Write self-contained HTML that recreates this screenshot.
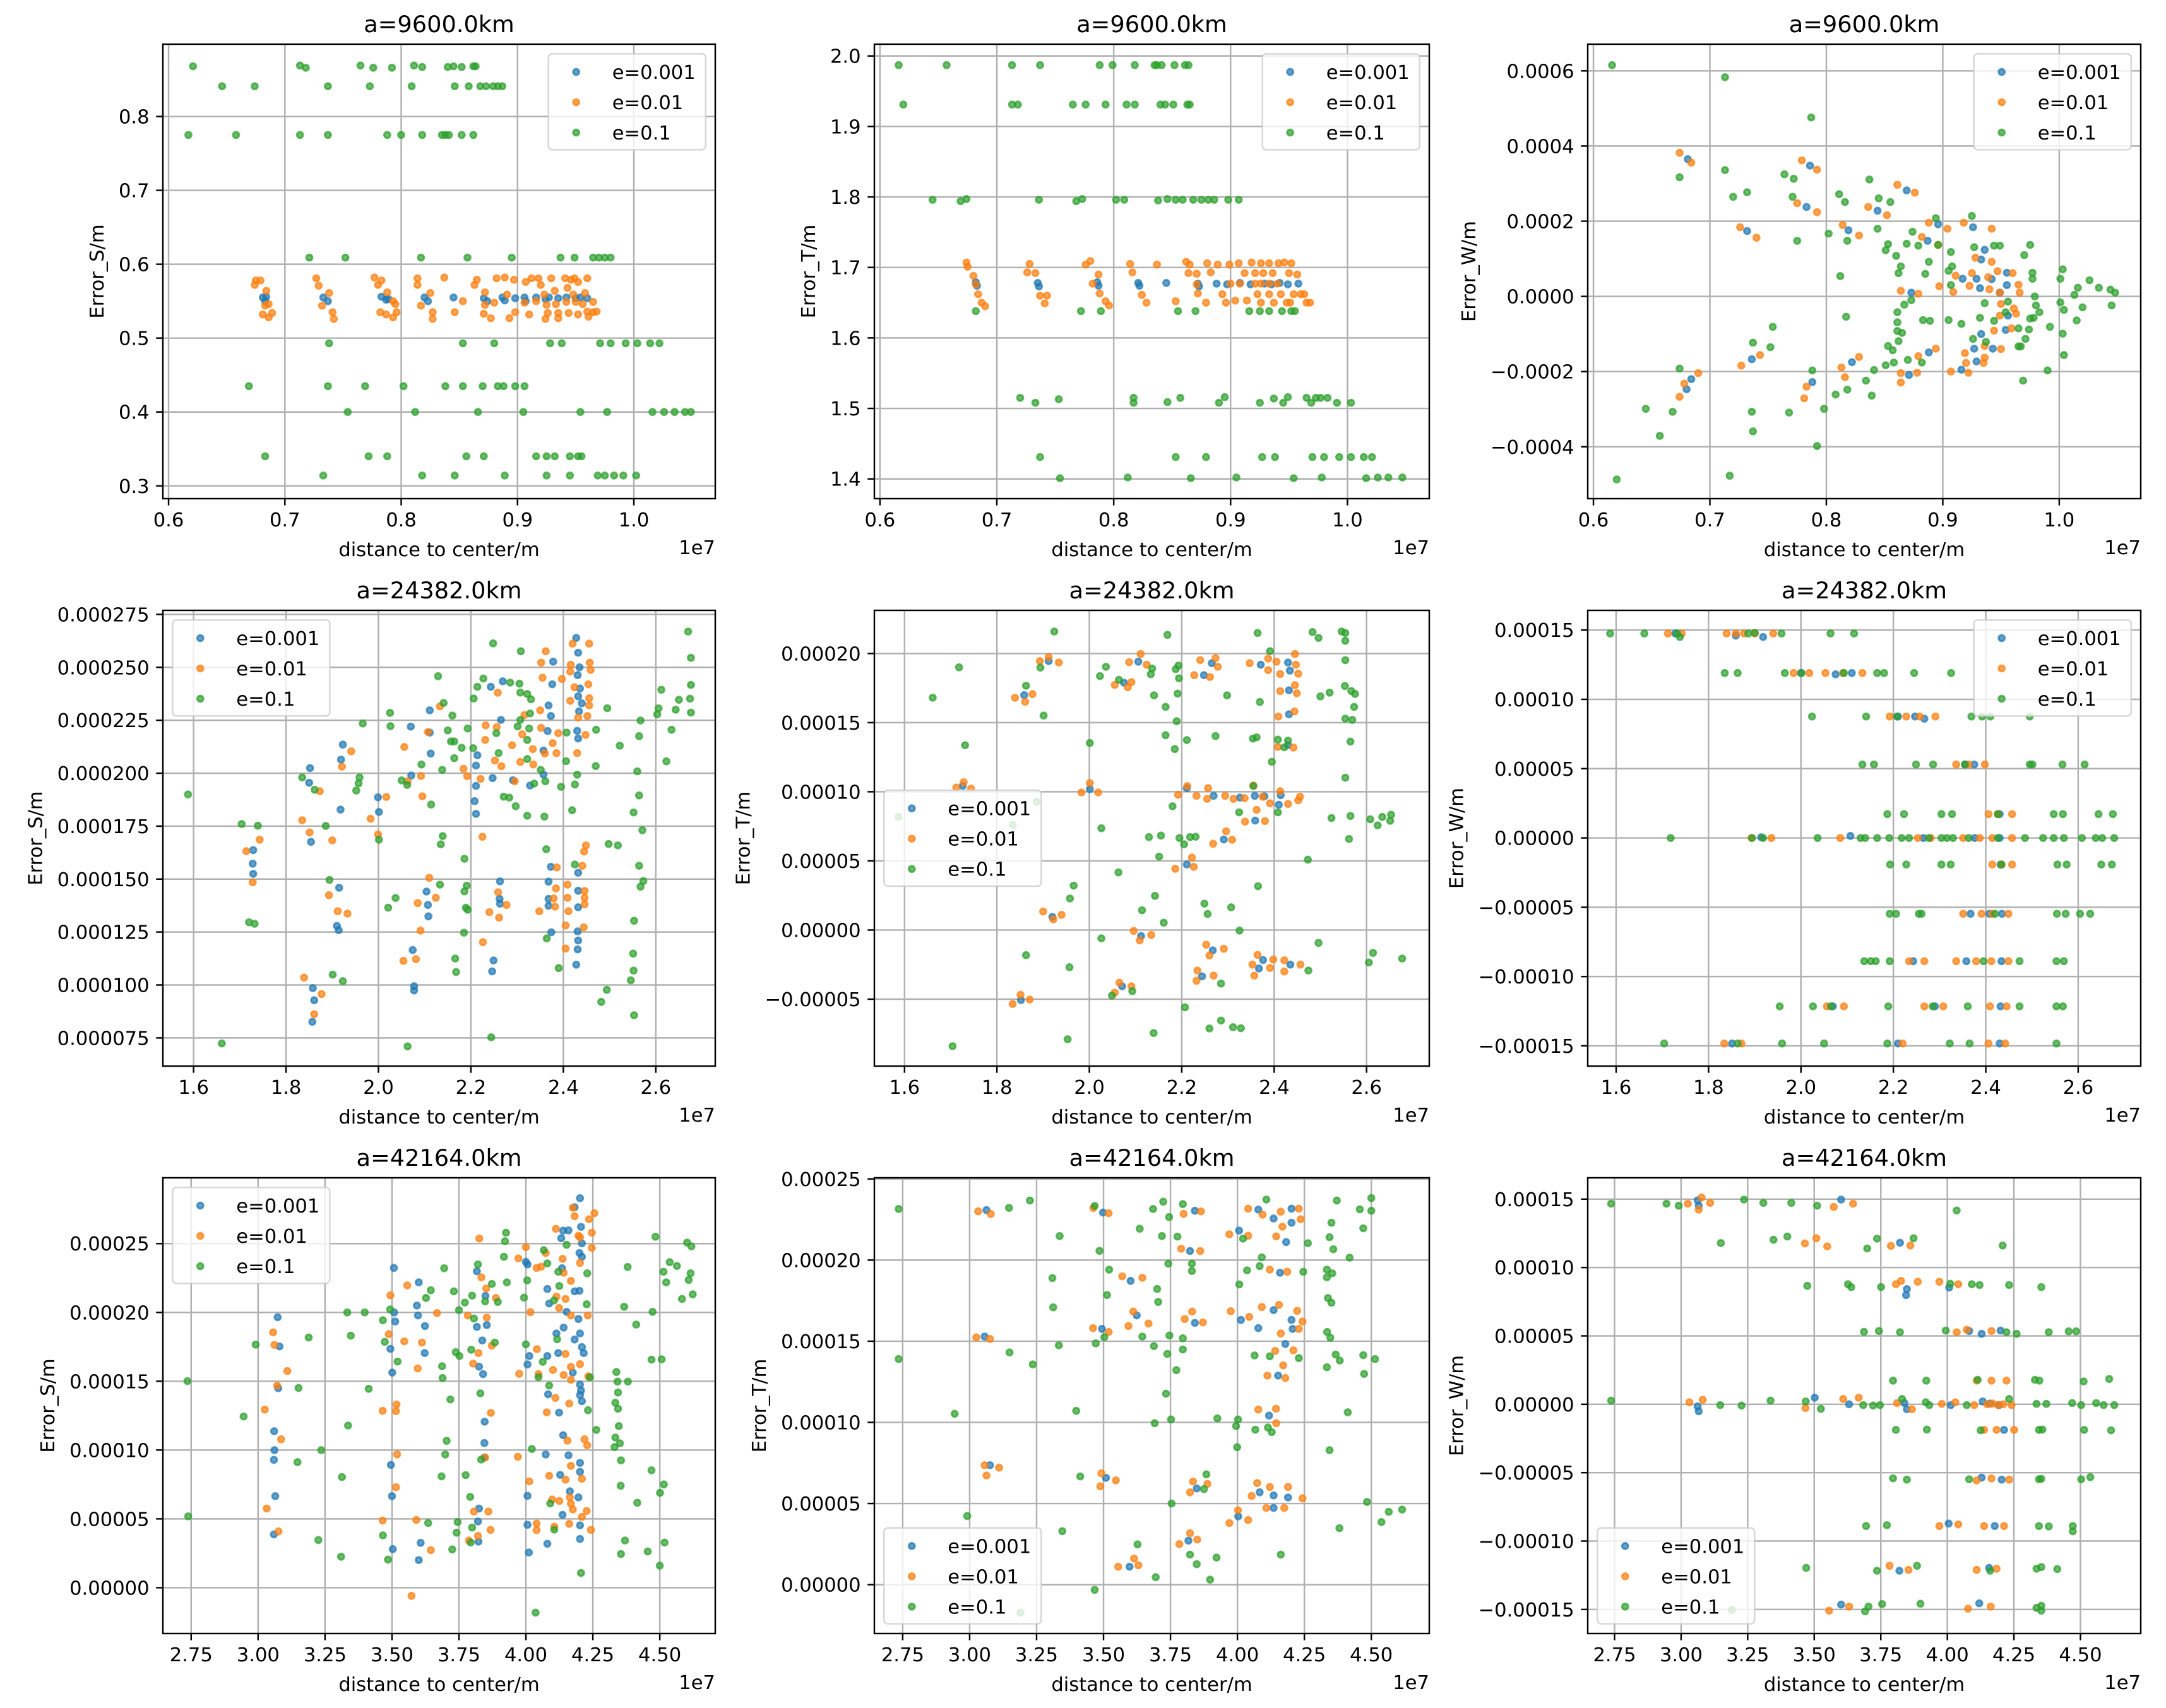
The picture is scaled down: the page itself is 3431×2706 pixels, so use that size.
<!DOCTYPE html>
<html><head><meta charset="utf-8"><title>Error scatter grid</title>
<style>
html,body{margin:0;padding:0;background:#fff;}
svg{display:block;font-family:"DejaVu Sans","Liberation Sans",sans-serif;}
</style></head>
<body>
<svg id="fig" xmlns="http://www.w3.org/2000/svg" width="3431" height="2706" viewBox="0 0 3431 2706">
<rect x="0" y="0" width="3431" height="2706" fill="#ffffff"/>
</svg>
<script>
// ---------------- DATA ----------------
// x in units of 1e7 m; y for S/T 9600 in m; other y in units of 1e-6 m
const seriesLabels = ["e=0.001","e=0.01","e=0.1"];
const seriesColors = ["#1f77b4","#ff7f0e","#2ca02c"];

const ticks9600X = [0.6,0.7,0.8,0.9,1.0];
const ticks9600XLabels = ["0.6","0.7","0.8","0.9","1.0"];
const ticks24382X = [1.6,1.8,2.0,2.2,2.4,2.6];
const ticks24382XLabels = ["1.6","1.8","2.0","2.2","2.4","2.6"];
const ticks42164X = [2.75,3.0,3.25,3.5,3.75,4.0,4.25,4.5];
const ticks42164XLabels = ["2.75","3.00","3.25","3.50","3.75","4.00","4.25","4.50"];

const ticksP1Y = [0.3,0.4,0.5,0.6,0.7,0.8];
const ticksP1YLabels = ["0.3","0.4","0.5","0.6","0.7","0.8"];
const ticksP2Y = [1.4,1.5,1.6,1.7,1.8,1.9,2.0];
const ticksP2YLabels = ["1.4","1.5","1.6","1.7","1.8","1.9","2.0"];
const ticksP3Y = [-400,-200,0,200,400,600];
const ticksP3YLabels = ["\u22120.0004","\u22120.0002","0.0000","0.0002","0.0004","0.0006"];
const ticksP4Y = [75,100,125,150,175,200,225,250,275];
const ticksP4YLabels = ["0.000075","0.000100","0.000125","0.000150","0.000175","0.000200","0.000225","0.000250","0.000275"];
const ticksP5Y = [-50,0,50,100,150,200];
const ticksP5YLabels = ["\u22120.00005","0.00000","0.00005","0.00010","0.00015","0.00020"];
const ticksWY = [-150,-100,-50,0,50,100,150];
const ticksWYLabels = ["\u22120.00015","\u22120.00010","\u22120.00005","0.00000","0.00005","0.00010","0.00015"];
const ticksP7Y = [0,50,100,150,200,250];
const ticksP7YLabels = ["0.00000","0.00005","0.00010","0.00015","0.00020","0.00025"];

// Panel 1: a=9600 Error_S
const p1Blue = [[0.681,0.555],[0.683,0.55],[0.684,0.556],[0.733,0.555],[0.737,0.55],[0.783,0.556],[0.787,0.552],[0.789,0.553],[0.82,0.555],[0.823,0.55],[0.845,0.555],[0.871,0.554],[0.874,0.55],[0.887,0.555],[0.889,0.551],[0.898,0.554],[0.906,0.555],[0.907,0.55],[0.916,0.555],[0.924,0.553],[0.927,0.555],[0.935,0.554],[0.942,0.555],[0.95,0.554],[0.954,0.555],[0.96,0.554]];
const p1Orange = [[0.675,0.578],[0.679,0.578],[0.674,0.572],[0.684,0.564],[0.683,0.544],[0.686,0.546],[0.681,0.532],[0.686,0.528],[0.689,0.534],[0.727,0.581],[0.729,0.571],[0.732,0.544],[0.738,0.561],[0.741,0.535],[0.742,0.526],[0.777,0.582],[0.783,0.578],[0.78,0.572],[0.788,0.562],[0.793,0.55],[0.795,0.546],[0.782,0.535],[0.787,0.532],[0.793,0.528],[0.796,0.535],[0.814,0.581],[0.814,0.572],[0.817,0.544],[0.825,0.561],[0.827,0.535],[0.827,0.526],[0.837,0.582],[0.846,0.535],[0.853,0.55],[0.863,0.572],[0.865,0.579],[0.872,0.562],[0.872,0.545],[0.871,0.533],[0.877,0.527],[0.88,0.548],[0.882,0.581],[0.889,0.582],[0.891,0.559],[0.893,0.527],[0.897,0.579],[0.898,0.535],[0.906,0.548],[0.907,0.576],[0.91,0.532],[0.912,0.581],[0.916,0.55],[0.918,0.581],[0.92,0.572],[0.923,0.559],[0.925,0.545],[0.926,0.534],[0.924,0.526],[0.929,0.581],[0.932,0.564],[0.933,0.546],[0.935,0.534],[0.935,0.527],[0.941,0.581],[0.943,0.568],[0.942,0.549],[0.944,0.534],[0.946,0.579],[0.948,0.559],[0.95,0.549],[0.952,0.532],[0.949,0.581],[0.952,0.576],[0.958,0.561],[0.956,0.546],[0.961,0.529],[0.96,0.536],[0.965,0.535],[0.965,0.549],[0.968,0.536],[0.96,0.581]];
const p1Green = [[0.621,0.868],[0.713,0.869],[0.718,0.866],[0.765,0.869],[0.776,0.866],[0.792,0.866],[0.811,0.869],[0.818,0.867],[0.84,0.867],[0.845,0.868],[0.852,0.867],[0.862,0.868],[0.864,0.868],
[0.646,0.841],[0.674,0.841],[0.737,0.841],[0.773,0.841],[0.809,0.841],[0.846,0.841],[0.858,0.841],[0.868,0.841],[0.873,0.841],[0.879,0.841],[0.883,0.841],[0.887,0.841],
[0.617,0.775],[0.658,0.775],[0.713,0.775],[0.737,0.775],[0.788,0.775],[0.8,0.775],[0.818,0.775],[0.835,0.775],[0.838,0.775],[0.841,0.775],[0.852,0.775],[0.862,0.775],
[0.721,0.609],[0.752,0.609],[0.817,0.609],[0.857,0.609],[0.895,0.609],[0.937,0.609],[0.949,0.609],[0.965,0.609],[0.97,0.609],[0.975,0.609],[0.98,0.609],
[0.738,0.493],[0.853,0.493],[0.88,0.493],[0.928,0.493],[0.938,0.493],[0.971,0.493],[0.98,0.493],[0.993,0.493],[1.003,0.493],[1.014,0.493],[1.022,0.493],
[0.669,0.435],[0.737,0.435],[0.769,0.435],[0.802,0.435],[0.838,0.435],[0.853,0.435],[0.87,0.435],[0.883,0.435],[0.888,0.435],[0.898,0.435],[0.906,0.435],
[0.754,0.4],[0.812,0.4],[0.866,0.4],[0.905,0.4],[0.954,0.4],[0.977,0.4],[1.016,0.4],[1.026,0.4],[1.035,0.4],[1.044,0.4],[1.049,0.4],
[0.683,0.34],[0.772,0.34],[0.788,0.34],[0.856,0.34],[0.871,0.34],[0.916,0.34],[0.925,0.34],[0.932,0.34],[0.945,0.34],[0.952,0.34],[0.955,0.34],
[0.733,0.314],[0.818,0.314],[0.846,0.314],[0.889,0.314],[0.925,0.314],[0.945,0.314],[0.969,0.314],[0.975,0.314],[0.983,0.314],[0.991,0.314],[1.002,0.314]];

// Panel 2: a=9600 Error_T
const p2Blue = [[0.682,1.679],[0.683,1.674],[0.735,1.678],[0.736,1.673],[0.786,1.679],[0.787,1.674],[0.821,1.678],[0.822,1.674],[0.845,1.678],[0.872,1.677],[0.873,1.673],[0.888,1.677],[0.897,1.676],[0.908,1.678],[0.917,1.676],[0.929,1.677],[0.935,1.676],[0.942,1.678],[0.949,1.676],[0.958,1.677]];
const p2Orange = [[0.674,1.707],[0.675,1.701],[0.68,1.688],[0.682,1.676],[0.684,1.662],[0.687,1.65],[0.69,1.645],[0.728,1.705],[0.726,1.693],[0.733,1.692],[0.737,1.66],[0.743,1.66],[0.741,1.649],[0.776,1.704],[0.78,1.709],[0.787,1.69],[0.782,1.677],[0.788,1.663],[0.793,1.652],[0.796,1.646],[0.814,1.705],[0.816,1.693],[0.824,1.661],[0.828,1.65],[0.837,1.704],[0.853,1.652],[0.862,1.708],[0.865,1.704],[0.864,1.692],[0.871,1.691],[0.872,1.663],[0.88,1.706],[0.883,1.693],[0.879,1.65],[0.889,1.704],[0.893,1.662],[0.896,1.65],[0.899,1.704],[0.904,1.653],[0.907,1.706],[0.912,1.692],[0.914,1.653],[0.918,1.707],[0.921,1.692],[0.923,1.662],[0.926,1.706],[0.926,1.65],[0.928,1.692],[0.933,1.706],[0.933,1.662],[0.936,1.692],[0.937,1.65],[0.941,1.706],[0.943,1.662],[0.946,1.707],[0.948,1.65],[0.95,1.692],[0.951,1.65],[0.952,1.706],[0.954,1.662],[0.957,1.69],[0.96,1.662],[0.963,1.662],[0.965,1.65],[0.968,1.65],[0.921,1.677],[0.926,1.677],[0.933,1.677],[0.94,1.677],[0.9,1.677],[0.908,1.677],[0.871,1.676]];
const p2Green = [[0.616,1.987],[0.657,1.987],[0.713,1.987],[0.737,1.987],[0.788,1.987],[0.799,1.987],[0.818,1.987],[0.835,1.987],[0.837,1.987],[0.841,1.987],[0.852,1.987],[0.861,1.987],[0.864,1.987],
[0.62,1.931],[0.713,1.931],[0.718,1.931],[0.765,1.931],[0.776,1.931],[0.793,1.931],[0.811,1.931],[0.818,1.931],[0.84,1.931],[0.844,1.931],[0.851,1.931],[0.863,1.931],[0.865,1.931],
[0.645,1.796],[0.669,1.794],[0.674,1.797],[0.736,1.796],[0.768,1.794],[0.773,1.797],[0.802,1.796],[0.809,1.796],[0.838,1.795],[0.846,1.797],[0.853,1.796],[0.859,1.796],[0.868,1.796],[0.875,1.796],[0.881,1.796],[0.886,1.796],[0.898,1.796],[0.907,1.796],
[0.682,1.638],[0.772,1.638],[0.789,1.638],[0.855,1.638],[0.87,1.638],[0.916,1.638],[0.925,1.638],[0.933,1.638],[0.944,1.638],[0.952,1.638],[0.955,1.638],
[0.72,1.515],[0.753,1.513],[0.817,1.515],[0.857,1.515],[0.895,1.516],[0.937,1.514],[0.949,1.516],[0.965,1.515],[0.973,1.515],[0.977,1.515],[0.983,1.515],[1.003,1.508],
[0.733,1.508],[0.817,1.508],[0.846,1.509],[0.89,1.508],[0.925,1.508],[0.945,1.508],[0.969,1.508],[0.991,1.508],
[0.737,1.431],[0.853,1.431],[0.879,1.431],[0.927,1.431],[0.938,1.431],[0.97,1.431],[0.98,1.431],[0.993,1.431],[1.003,1.431],[1.014,1.431],[1.021,1.431],
[0.754,1.401],[0.812,1.402],[0.866,1.401],[0.905,1.402],[0.954,1.401],[0.978,1.402],[1.016,1.401],[1.026,1.402],[1.035,1.402],[1.047,1.402]];

// Panel 3: a=9600 Error_W (y in 1e-6)
const p3Blue = [[0.681,365],[0.786,348],[0.783,238],[0.732,174],[0.819,176],[0.844,228],[0.869,282],[0.887,148],[0.896,192],[0.926,184],[0.936,124],[0.933,98],[0.955,63],[0.917,47],[0.929,47],[0.942,46],[0.955,30],[0.932,22],[0.949,10],[0.873,10],[0.956,-51],[0.954,-89],[0.933,-100],[0.927,-139],[0.943,-139],[0.929,-173],[0.916,-195],[0.888,-149],[0.871,-209],[0.822,-175],[0.736,-167],[0.684,-220],[0.68,-247],[0.788,-228]];
const p3Orange = [[0.674,382],[0.684,356],[0.779,362],[0.792,337],[0.775,248],[0.792,224],[0.726,184],[0.74,156],[0.814,190],[0.828,162],[0.836,238],[0.852,216],[0.861,297],[0.876,276],[0.888,196],[0.904,180],[0.882,158],[0.896,137],[0.918,196],[0.942,180],[0.928,103],[0.942,92],[0.911,55],[0.925,62],[0.939,51],[0.947,67],[0.96,62],[0.897,27],[0.864,15],[0.879,7],[0.909,12],[0.923,28],[0.94,19],[0.949,10],[0.965,31],[0.966,10],[0.95,-20],[0.961,-32],[0.963,-46],[0.949,-51],[0.959,-85],[0.944,-91],[0.95,-140],[0.936,-132],[0.919,-151],[0.936,-163],[0.92,-177],[0.935,-177],[0.907,-200],[0.922,-203],[0.894,-139],[0.879,-159],[0.864,-204],[0.864,-229],[0.878,-203],[0.813,-189],[0.828,-161],[0.816,-215],[0.783,-240],[0.781,-271],[0.69,-204],[0.678,-232],[0.674,-267],[0.743,-156],[0.727,-184]];
const p3Green = [[0.616,615],[0.713,583],[0.787,476],[0.674,317],[0.713,336],[0.72,265],[0.732,277],[0.764,325],[0.772,313],[0.771,265],[0.775,148],[0.811,272],[0.816,251],[0.837,311],[0.845,261],[0.855,251],[0.844,180],[0.802,167],[0.818,148],[0.812,54],[0.817,-54],[0.851,123],[0.853,139],[0.86,108],[0.864,80],[0.862,62],[0.869,140],[0.874,172],[0.879,135],[0.888,92],[0.885,60],[0.894,208],[0.896,137],[0.907,118],[0.908,80],[0.905,68],[0.907,30],[0.925,214],[0.927,131],[0.944,135],[0.949,135],[0.975,137],[0.97,110],[0.977,63],[0.977,47],[0.979,0],[0.98,-24],[0.983,-42],[0.978,-57],[0.974,-88],[0.971,-113],[0.967,-133],[0.969,-224],[0.99,-197],[0.992,-81],[1.003,72],[1.001,47],[1.001,-16],[1.004,-36],[1.015,-64],[1.02,-29],[1.013,4],[1.016,23],[1.026,43],[1.034,23],[1.044,18],[1.048,10],[1.045,-24],[1.003,-99],[1.004,-156],[0.965,-85],[0.956,-14],[0.936,-18],[0.932,-57],[0.916,-73],[0.905,-63],[0.889,-65],[0.883,-63],[0.861,-42],[0.867,-22],[0.873,-10],[0.861,-69],[0.861,-92],[0.865,-97],[0.862,-119],[0.853,-132],[0.857,-143],[0.858,-176],[0.851,-183],[0.87,-169],[0.882,-176],[0.841,-196],[0.834,-224],[0.839,-264],[0.818,-248],[0.808,-261],[0.798,-299],[0.788,-197],[0.926,-113],[0.937,-121],[0.975,-59],[0.965,-133],[0.944,-65],[0.954,-42],[0.754,-81],[0.737,-123],[0.752,-135],[0.674,-192],[0.645,-299],[0.668,-307],[0.657,-371],[0.736,-307],[0.737,-359],[0.768,-309],[0.792,-398],[0.717,-477],[0.62,-487]];

// Panel 4: a=24382 Error_S (y in 1e-6)
const p4Blue = [[2.428,263.9],[2.432,256.9],[2.378,252.7],[2.431,246.3],[2.432,236.3],[2.434,229.2],[2.376,242],[2.269,243.4],[2.243,240.8],[2.368,232],[2.373,227],[2.265,225.2],[2.111,229.7],[2.07,222],[2.111,219.2],[2.432,216.4],[2.366,219.9],[2.357,210.7],[2.214,208.5],[2.113,209.3],[1.923,213.5],[1.919,206.4],[1.852,202.4],[1.85,195.5],[2.071,198.9],[2.211,203.6],[2.247,197.7],[2.291,196.7],[2.328,194.2],[2.357,199.3],[2.211,194],[2.208,186.8],[1.999,188.6],[2.001,181.7],[1.918,182.8],[2.211,180.8],[1.729,163.7],[1.728,157.3],[1.729,152.5],[1.854,167.6],[1.915,145.9],[1.91,127.9],[1.914,125.9],[2.104,144.1],[2.107,137.8],[2.108,132.4],[2.074,116.5],[2.077,99.4],[2.077,97.4],[2.263,148.9],[2.262,140.7],[2.263,138.4],[2.249,111.6],[2.246,106.4],[2.373,155.8],[2.368,148.8],[2.368,140.7],[2.368,137.4],[2.374,124.9],[2.432,153],[2.432,144.5],[2.432,136.7],[2.431,125.3],[2.432,121],[2.431,116.8],[2.428,109.6],[1.858,98.5],[1.861,92.8],[1.857,82.6],[2.435,250],[2.436,240],[2.44,233],[2.43,220]];
const p4Orange = [[2.42,261.2],[2.456,261.2],[2.362,257.6],[2.352,252.2],[2.416,251.2],[2.457,252.2],[2.459,248.8],[2.415,248],[2.355,245.1],[2.397,244.5],[2.424,240.6],[2.454,242],[2.415,234.2],[2.456,235.4],[2.456,232],[2.35,229.7],[2.432,226.3],[2.452,227],[2.258,238],[2.133,231.6],[2.316,227.5],[2.232,222.6],[2.256,221.8],[2.352,221.4],[2.107,219.5],[2.389,218.9],[2.448,218.1],[2.311,218.4],[2.231,215.7],[2.289,213.2],[2.056,212.4],[2.334,211.4],[2.377,214.2],[2.36,209.3],[2.385,209.5],[2.43,209.5],[1.941,210.3],[1.921,203.1],[2.252,206],[2.266,203.3],[2.307,205.3],[2.335,204.1],[2.184,202.1],[2.192,198.6],[2.221,197.3],[2.295,196.2],[2.092,198.7],[2.063,196.2],[1.873,191.5],[2.017,188.8],[2.095,189.1],[1.983,178.5],[1.835,177.8],[1.851,172],[1.9,168.3],[1.999,171.1],[1.743,168.6],[1.714,163.2],[1.728,148.5],[2.225,170],[2.449,165.9],[2.445,163],[2.441,156.3],[2.386,155.5],[2.11,150.6],[2.384,145.6],[2.409,147.4],[2.446,144.4],[2.259,143.8],[1.893,142.4],[2.124,141.2],[2.085,138.7],[2.379,140.9],[2.409,141.2],[2.446,141.2],[2.277,137.8],[2.382,137],[2.446,138.1],[1.912,134.8],[1.933,133.7],[2.24,134.4],[2.348,134.8],[2.411,134.8],[2.261,131.8],[2.091,125.7],[2.405,128.1],[2.444,127.2],[2.226,120.2],[2.405,117.2],[2.054,111.4],[2.081,112.2],[1.839,103.5],[1.877,95.7],[1.861,86.2]];
const p4Green = [[2.67,266.9],[2.676,254.5],[2.676,241.7],[2.612,239.4],[2.674,235.2],[2.65,234.7],[2.643,230],[2.606,230.6],[2.603,227.8],[2.676,228.6],[2.567,224.9],[2.634,220.5],[2.564,217.5],[2.522,213],[2.623,205.6],[2.56,200.9],[2.564,189.5],[2.552,181.5],[2.571,173.1],[2.498,166.6],[2.518,165.9],[2.564,156.3],[2.573,149.1],[2.567,146.4],[2.553,130.3],[2.551,114.8],[2.552,106.8],[2.546,102.2],[2.494,97.7],[2.482,92],[2.553,85.7],[2.495,230.7],[2.471,220.5],[2.47,203.4],[2.43,199.3],[2.425,194.7],[2.419,182.5],[2.395,193.6],[2.406,205.7],[2.407,219.2],[2.363,164.1],[2.425,156.9],[2.364,122],[2.39,108],[2.248,261.3],[2.308,257.6],[2.129,245.8],[2.227,244.7],[2.214,240.8],[2.285,242.8],[2.305,242.3],[2.307,238.1],[2.322,237.4],[2.33,234.9],[2.206,235.3],[2.141,233.2],[2.16,227.2],[2.025,228.5],[2.026,222.2],[1.966,223.5],[2.307,225.2],[2.301,222.1],[2.326,221.1],[2.322,215.7],[2.328,228.2],[2.193,221.1],[2.15,220.2],[2.157,215],[2.164,215],[2.18,212],[2.205,211.8],[2.26,209.5],[2.255,218.9],[2.164,207.1],[2.093,204.1],[2.138,201.6],[2.322,206.7],[2.351,201.6],[2.361,196.2],[2.337,195.1],[1.959,198],[1.957,195.2],[1.952,191.8],[1.835,198],[1.862,192.2],[2.05,196.6],[2.062,194.5],[2.271,188.9],[2.283,188.5],[2.297,184.4],[2.322,179.9],[2.359,179.5],[2.114,185.2],[1.588,190],[1.704,176],[1.739,175.2],[1.886,175.1],[2.001,168.6],[2.139,170.3],[2.135,166.4],[2.186,159.6],[1.894,149.6],[2.191,146.9],[2.133,147.4],[2.186,144.2],[2.037,141.1],[2.021,136.5],[2.189,136.5],[2.193,135.5],[2.185,124.7],[1.72,129.6],[1.732,128.9],[2.166,112.5],[2.168,106.1],[1.901,104.9],[1.923,101.8],[2.244,75.3],[2.063,71],[1.661,72.4]];

// Panel 5: a=24382 Error_T (y in 1e-6)
const p5Blue = [[1.912,194.5],[1.859,169.9],[2.106,194.1],[2.075,178.9],[2.265,193],[2.248,184.3],[2.371,191.9],[2.43,193.5],[2.434,187.6],[2.432,173.4],[2.432,156],[2.43,133.7],[1.726,104.3],[2.001,101.9],[2.211,102.6],[2.269,97.1],[2.326,95.8],[2.358,97.1],[2.379,96.7],[2.414,97.5],[2.41,90.6],[2.359,79.2],[2.291,65.5],[2.211,47.4],[1.92,9.5],[2.112,-4.3],[2.267,-14.7],[2.376,-21.7],[2.367,-27.8],[2.435,-25],[2.244,-33.5],[2.071,-40.7],[1.852,-50.7]];
const p5Orange = [[1.893,194.5],[1.934,193.5],[1.912,197.4],[1.877,170.6],[1.839,168],[1.861,165.1],[2.086,193.7],[2.111,199.6],[2.124,191.9],[2.055,177.3],[2.083,175.6],[2.091,179.3],[2.24,195.2],[2.273,196.7],[2.278,190.4],[2.227,184.3],[2.261,183],[2.347,193],[2.387,188],[2.387,196.3],[2.405,194.1],[2.445,199.6],[2.447,191.9],[2.413,185.2],[2.452,185.4],[2.413,172.8],[2.449,171.2],[2.445,177.1],[2.409,154.4],[2.444,158.1],[2.408,132.4],[2.442,132],[1.712,103],[1.744,102.3],[1.728,106.9],[1.983,99.5],[2.019,99.5],[2.001,106.3],[2.192,97.8],[2.212,104.1],[2.232,97.1],[2.257,102.6],[2.255,94.9],[2.294,97.1],[2.312,94.9],[2.336,95.4],[2.355,104.5],[2.375,96.4],[2.391,91.7],[2.413,100.4],[2.43,91.2],[2.456,96.4],[2.452,93.8],[2.337,78.4],[2.362,86.9],[2.38,78.8],[2.296,71.4],[2.268,62.4],[2.309,65.3],[2.222,52.4],[2.186,44.3],[2.226,45.7],[1.9,13.4],[1.94,11],[1.922,7.7],[2.096,-0.6],[2.134,-3.6],[2.109,-7.5],[2.253,-10.6],[2.291,-13.6],[2.26,-18.4],[2.364,-18],[2.353,-25],[2.391,-27.4],[2.398,-21.3],[2.422,-21.9],[2.422,-30],[2.457,-25],[2.234,-29.3],[2.269,-33],[2.232,-36.7],[2.357,-33],[2.065,-38.1],[2.091,-40.7],[2.055,-45.3],[1.851,-46.8],[1.834,-53.5],[1.871,-50.3]];
const p5Green = [[1.924,215.9],[2.169,213.5],[2.364,214.8],[2.483,215.5],[2.496,211.3],[2.546,215.9],[2.554,214.8],[2.554,209.2],[2.554,195.2],[1.718,190],[1.894,189.8],[2.036,190.4],[2.023,183.7],[2.064,181],[2.133,185],[2.136,189.1],[2.187,188.7],[2.193,191.3],[2.194,182.1],[2.191,171],[2.14,169.7],[2.165,161.4],[2.189,151],[2.298,169.7],[2.369,164.9],[2.391,201.7],[2.5,169],[2.52,171.7],[2.553,176.5],[2.567,172.8],[2.575,170.8],[2.573,161.4],[2.554,152.9],[2.569,152],[1.661,168],[1.863,176.7],[1.901,155.1],[1.731,133.7],[2.001,135.3],[2.165,140.9],[2.211,137.4],[2.185,130.9],[2.273,140.3],[2.354,138.5],[2.362,139.4],[2.408,137.7],[2.43,137],[2.422,132.2],[2.395,121.7],[2.565,136.3],[2.554,110.2],[2.355,104.1],[2.408,85.1],[2.324,85.1],[2.18,89.5],[2.026,73.6],[1.886,92.7],[1.834,76.1],[1.587,81.8],[2.524,81],[2.565,82.5],[2.608,80.1],[2.624,75.7],[2.634,81.8],[2.651,79],[2.653,83.4],[2.562,65.9],[2.473,50.9],[2.129,67.2],[2.155,68.3],[2.195,66.6],[2.218,67.2],[2.23,67.5],[2.205,62],[2.151,53.1],[2.063,41.7],[1.966,32.1],[1.958,22.8],[2.142,24.7],[2.365,31.7],[2.249,19.1],[2.256,11.6],[2.307,16.4],[2.325,-0.4],[2.114,14.3],[2.161,5.3],[2.026,-6],[1.863,-18.2],[1.957,-26.9],[2.496,-9.3],[2.614,-16.5],[2.605,-23.5],[2.677,-20.6],[2.474,-29.3],[2.285,-38.7],[2.093,-44.2],[2.049,-47.4],[2.207,-55.9],[2.285,-65.5],[2.26,-71.2],[2.311,-70.3],[2.328,-71],[2.139,-74.5],[1.953,-79],[1.704,-84]];

// Panel 6: a=24382 Error_W (y in 1e-6)
const p6Blue = [[1.728,147.5],[1.859,146],[1.918,145],[2.0,119],[2.075,118],[2.11,119],[2.21,87.6],[2.247,87.6],[2.267,86],[2.355,53],[2.375,53],[2.43,17.2],[1.914,0.5],[2.107,1.5],[2.265,0],[2.376,0],[2.43,0],[2.432,-19.2],[2.367,-54.7],[2.408,-54.7],[2.435,-54.7],[2.243,-88.9],[2.358,-88.9],[2.434,-88.9],[2.069,-121.5],[2.29,-121.5],[2.432,-121.5],[1.851,-148.3],[2.21,-148.3],[2.43,-148.3]];
const p6Orange = [[1.712,147.5],[1.742,147.5],[1.839,147.5],[1.859,147.5],[1.877,147.5],[1.9,147.5],[1.94,147.5],[1.984,119],[2.018,119],[2.053,119],[2.091,119],[2.133,119],[2.192,87.6],[2.228,87.6],[2.257,87.6],[2.291,87.6],[2.336,53],[2.363,53],[2.398,53],[2.406,17.2],[2.426,17.2],[2.457,17.2],[1.893,0],[1.936,0],[2.085,0],[2.253,0],[2.281,0],[2.351,0],[2.387,0],[2.414,0],[2.457,0],[2.414,-19.2],[2.434,-19.2],[2.457,-19.2],[2.351,-54.7],[2.391,-54.7],[2.414,-54.7],[2.449,-54.7],[2.234,-88.9],[2.267,-88.9],[2.336,-88.9],[2.379,-88.9],[2.412,-88.9],[2.449,-88.9],[2.056,-121.5],[2.093,-121.5],[2.267,-121.5],[2.308,-121.5],[2.409,-121.5],[2.445,-121.5],[1.834,-148.3],[1.871,-148.3],[2.22,-148.3],[2.406,-148.3],[2.442,-148.3]];
const p6Green = [[1.587,147.5],[1.661,147.5],[1.738,145],[1.732,147.5],[1.886,147.5],[1.9,148],[1.958,147.5],[2.064,147.5],[2.115,147.5],
[1.835,119],[1.863,119],[1.965,119],[2.001,119],[2.093,119],[2.165,119],[2.18,119],[2.245,119],[2.325,119],
[2.024,87.6],[2.141,87.6],[2.208,87.6],[2.369,87.6],[2.392,87.6],[2.41,87.6],[2.495,87.6],
[2.133,53],[2.158,53],[2.249,53],[2.286,53],[2.355,53],[2.495,53],[2.501,53],[2.566,53],[2.614,53],
[2.187,17.2],[2.223,17.2],[2.304,17.2],[2.327,17.2],[2.426,17.2],[2.547,17.2],[2.567,17.2],[2.644,17.2],[2.675,17.2],
[1.718,0],[1.894,0],[1.918,0],[2.036,0],[2.129,0],[2.139,0],[2.165,0],[2.191,0],[2.218,0],[2.234,0],[2.277,0],[2.304,0],[2.316,0],[2.329,0],[2.363,0],[2.426,0],[2.485,0],[2.524,0],[2.547,0],[2.569,0],[2.608,0],[2.638,0],[2.652,0],[2.678,0],
[2.193,-19.2],[2.228,-19.2],[2.304,-19.2],[2.324,-19.2],[2.434,-19.2],[2.555,-19.2],[2.575,-19.2],[2.65,-19.2],[2.673,-19.2],
[2.192,-54.7],[2.206,-54.7],[2.255,-54.7],[2.261,-54.7],[2.42,-54.7],[2.554,-54.7],[2.573,-54.7],[2.604,-54.7],[2.626,-54.7],
[2.137,-88.9],[2.151,-88.9],[2.162,-88.9],[2.192,-88.9],[2.395,-88.9],[2.473,-88.9],[2.553,-88.9],[2.569,-88.9],
[1.954,-121.5],[2.026,-121.5],[2.065,-121.5],[2.189,-121.5],[2.285,-121.5],[2.361,-121.5],[2.473,-121.5],[2.553,-121.5],[2.567,-121.5],
[1.704,-148.3],[1.863,-148.3],[1.959,-148.3],[2.05,-148.3],[2.187,-148.3],[2.322,-148.3],[2.365,-148.3],[2.553,-148.3]];

// Panel 7: a=42164 Error_S (y in 1e-6)
const p7Blue = [[4.202,283],[4.182,276.4],[4.159,259.6],[4.132,253.9],[4.139,259.4],[4.206,262.2],[4.209,250.2],[4.0,236.7],[4.006,234.9],[4.135,232.1],[4.2,243.2],[4.209,240.4],[4.08,217],[4.087,206.5],[4.182,215.3],[4.2,215.7],[4.152,200.4],[4.196,195.2],[4.141,189],[4.114,184.7],[4.182,180.3],[4.202,184.7],[4.209,174.8],[4.216,170.5],[4.121,170.5],[4.08,168.3],[4.013,168.3],[4.006,162.2],[4.175,156.3],[4.202,147.5],[4.206,143.2],[4.202,139.9],[4.209,135.5],[4.083,140.5],[4.124,127.2],[3.817,229.9],[3.849,212],[3.817,189.5],[3.854,190.8],[3.837,179.6],[3.825,160.6],[3.84,155.2],[3.6,221.8],[3.593,205],[3.597,197.8],[3.623,190.1],[3.622,170.5],[3.507,232.3],[3.508,200],[3.512,193.4],[3.494,173.5],[3.501,156.3],[3.073,196.5],[3.08,175.3],[3.075,144.9],[3.06,113.7],[3.061,99.9],[3.059,92.9],[3.064,66.5],[3.059,38.7],[3.846,120.6],[3.845,105.1],[3.845,94.6],[3.496,89.2],[3.5,66.5],[3.503,28],[3.6,20.1],[3.607,32.6],[3.821,48.1],[3.825,57.5],[3.823,33.5],[4.006,66.7],[4.006,45.7],[4.011,25.6],[4.08,31.9],[4.074,96.8],[4.139,110.8],[4.159,96.2],[4.128,82],[4.164,70],[4.202,90.7],[4.202,84.2],[4.196,65.6],[4.137,52.9],[4.202,45.3],[4.202,35.4]];
const p7Orange = [[4.175,276],[4.256,272.1],[4.236,267.7],[4.182,269.9],[4.112,260.7],[4.196,255.7],[4.246,257.9],[4.202,254.6],[4.246,246.9],[4.0,247.4],[4.074,243.2],[4.137,238.9],[3.826,253.7],[3.972,239.3],[4.04,232.3],[4.057,233.2],[4.141,228.8],[4.168,222.9],[4.202,236],[3.834,225.5],[3.852,217.4],[3.888,210.5],[4.114,211.5],[4.148,209.8],[4.124,203.2],[4.168,197.8],[4.231,197.8],[4.017,200.2],[3.783,197.8],[3.854,196.2],[3.668,199.5],[3.557,219.6],[3.494,212.4],[3.488,184.2],[3.546,179],[3.612,178.1],[3.873,175.9],[3.823,170.5],[3.803,162.8],[4.041,173.3],[4.148,169.8],[4.168,160.4],[4.202,162.4],[4.101,158.2],[4.047,155.2],[3.975,155.4],[4.141,154.5],[4.233,153.6],[4.168,151],[3.071,146.9],[3.056,185.5],[3.061,176.4],[3.109,157.4],[3.025,129.4],[3.465,128.5],[3.515,128.3],[3.517,133.1],[3.596,159.3],[4.11,137.9],[4.162,133.8],[4.078,127.4],[3.869,127],[4.155,106.9],[4.219,107.8],[4.229,103.4],[3.97,95.1],[3.848,94.6],[3.519,96.8],[3.086,107.8],[4.013,77.2],[4.087,81.3],[4.148,78.5],[4.209,79.1],[4.168,88.5],[3.515,73],[4.098,64.1],[4.125,63],[4.164,65.6],[4.168,61],[4.175,56.8],[4.209,51.4],[4.227,55.7],[3.806,55.3],[3.86,55.3],[3.868,42],[3.821,37.6],[4.04,46.6],[4.04,41.8],[4.106,44.4],[4.162,46.4],[4.243,42],[3.465,48.8],[3.591,49.2],[3.645,27.3],[3.787,34.3],[3.032,57.5],[3.076,40.9],[3.573,-5.9]];
const p7Green = [[3.926,257.9],[3.922,251.7],[3.918,240.4],[3.821,234.9],[3.695,232.1],[3.929,221.8],[3.873,220.7],[4.005,223.3],[4.067,245.2],[4.08,235.6],[4.121,229.5],[4.229,228.4],[4.152,249.1],[4.227,205.9],[4.125,219.2],[4.105,208.7],[3.993,210.7],[3.895,207.6],[3.848,208],[3.799,212.2],[3.772,207.2],[3.731,215.3],[3.645,216.1],[3.627,210.5],[3.333,200],[3.398,200],[3.493,202.1],[3.466,194.3],[3.75,201.7],[3.806,195.6],[3.884,178.1],[3.796,172.9],[3.738,171.1],[3.752,168.3],[3.687,160.9],[3.689,152.3],[3.521,164.3],[3.473,178.6],[3.346,183.1],[3.189,181.8],[2.991,176.6],[2.736,150.1],[3.151,145.1],[3.413,144.5],[3.718,136.8],[3.83,141.2],[4.0,176.8],[4.063,164.1],[4.117,180.5],[4.087,146.9],[4.239,152.8],[4.232,128.9],[4.263,114.7],[4.338,156.7],[4.342,149.7],[4.344,141.8],[4.334,134.4],[4.344,130],[4.347,117.4],[4.334,109.1],[4.351,104.9],[4.331,102.1],[4.355,92.5],[4.354,74.1],[4.381,149.7],[4.38,233],[4.367,204.1],[4.412,191.2],[4.473,200.4],[4.484,255],[4.514,229.5],[4.524,221.8],[4.537,236.5],[4.564,233.8],[4.615,228.4],[4.608,223.6],[4.623,213.1],[4.583,209.8],[4.602,250.7],[4.618,248],[4.469,165.7],[4.507,165.9],[4.469,85.3],[4.515,75],[4.501,68.9],[4.416,61.7],[4.37,34.3],[4.355,24.5],[4.455,26.3],[4.5,16],[4.518,32.8],[4.206,10.7],[4.022,100.8],[4.091,61.2],[4.106,42.2],[4.047,153],[3.704,106.7],[3.699,96.8],[3.685,80.9],[3.775,81.8],[3.792,66],[3.833,93.1],[3.745,47.7],[3.741,40],[3.725,27.8],[3.794,32.8],[3.799,43.7],[3.635,47],[3.466,38],[3.485,20.4],[3.31,22.5],[3.313,80.4],[3.336,117.8],[3.236,99.9],[3.147,91.2],[3.225,34.6],[2.946,124.4],[2.739,51.8],[4.036,-18.1]];

// Panel 8: a=42164 Error_T (y in 1e-6)
const p8Blue = [[3.063,230.8],[3.498,229.3],[3.841,230.4],[4.078,231.1],[4.135,225.6],[4.202,231.7],[4.202,223],[4.182,211.1],[4.006,218.2],[3.823,205.6],[3.601,187.2],[4.159,192.2],[3.624,165.9],[3.494,157.6],[3.841,161.3],[4.013,163.1],[4.078,158.1],[4.135,169.2],[4.202,163.1],[4.206,157.6],[3.056,152.9],[4.179,148.3],[4.152,128.8],[3.076,73.6],[3.509,65.8],[3.848,59.3],[4.083,56.9],[4.135,55],[4.189,53.7],[4.135,47.3],[4.003,42.1],[3.817,27.1],[3.597,11.1],[4.118,104.2]];
const p8Orange = [[3.032,230],[3.079,228.4],[3.462,232.1],[3.519,228.9],[3.799,228.5],[3.864,230],[4.04,231.7],[4.094,228],[4.162,229.8],[4.229,231.7],[4.236,225.2],[4.168,220.6],[3.97,215.9],[4.04,215],[4.145,214.6],[3.79,207],[3.861,205.6],[3.57,190],[3.645,189.1],[4.121,194.1],[4.186,192.8],[3.611,168.3],[3.668,160.9],[3.461,158.1],[3.519,155.7],[3.593,159.4],[3.831,168.3],[3.803,163.7],[3.871,161.6],[3.975,168.5],[4.044,165],[4.091,171.1],[4.155,172.4],[4.223,168.7],[4.243,162.2],[4.162,154.8],[4.229,157.6],[3.025,152.4],[3.076,151.4],[4.141,144],[4.209,144.4],[4.171,135.1],[4.112,128.8],[4.179,127.3],[4.078,107.9],[4.144,108.4],[4.145,99.5],[3.056,73.6],[3.11,72.1],[3.063,67.3],[3.492,68.6],[3.546,64.3],[3.488,60.6],[3.834,63.6],[3.888,62.1],[3.823,56.9],[4.074,62.6],[4.121,60.2],[4.189,60.2],[4.053,54.7],[4.108,47.3],[4.175,47.3],[4.243,53.2],[4.002,45.8],[3.97,38],[4.04,39.8],[3.823,31.7],[3.783,25],[3.85,27.8],[3.614,16.1],[3.555,11.1],[3.63,12]];
const p8Green = [[2.735,231.5],[3.147,232.2],[3.225,236.7],[3.467,233.4],[3.685,231.5],[3.723,236],[3.796,234.5],[3.745,226.5],[3.635,219.3],[3.718,214.8],[3.776,214.5],[3.336,214.8],[3.485,205.7],[4.108,237.3],[4.371,236.7],[4.5,238.2],[4.457,231.3],[4.5,230.4],[4.351,223],[4.47,219.6],[4.344,214.1],[4.358,206.7],[4.263,210.4],[4.419,201.5],[4.091,201.7],[4.021,213.2],[3.742,197.8],[3.83,197.8],[3.83,193.3],[3.521,194.1],[3.309,188.9],[4.036,193.7],[4.083,196.3],[4.246,192.8],[4.334,194.1],[4.354,191.8],[4.334,189.4],[4.007,185],[3.7,182.2],[3.704,174.2],[3.513,178.5],[3.312,170.9],[4.338,176.6],[4.351,173.7],[3.645,152.9],[3.746,153.5],[3.796,151.8],[3.503,152.5],[4.335,155.7],[4.347,152.2],[3.471,148.7],[3.333,147.5],[3.149,143.1],[3.236,135.7],[2.735,139],[3.688,147],[3.738,142.2],[3.796,144.9],[3.772,132.2],[4.064,141.2],[4.121,140.7],[4.229,139.6],[4.334,134],[4.367,141.8],[4.382,138.1],[4.47,141.4],[4.514,139],[4.473,129.9],[3.733,117.7],[2.944,105.3],[3.398,107.1],[3.752,101.8],[3.691,99.5],[3.925,102.5],[4.002,101.8],[3.995,97.7],[4.067,95.5],[4.114,96.8],[4.128,94],[4.412,106.2],[3.999,84.7],[4.344,82.9],[3.413,66.7],[3.884,68],[3.875,58.9],[3.754,50],[4.484,51],[4.565,44.9],[4.615,46.3],[4.538,38.6],[4.381,34.8],[2.991,42.3],[3.346,33],[3.627,24.8],[3.823,18.5],[3.922,16.7],[3.848,12.6],[4.162,18.5],[3.695,4.6],[3.898,3.1],[3.467,-3.2],[3.19,-17.2]];

// Panel 9: a=42164 Error_W (y in 1e-6)
const p9Blue = [[3.062,149.1],[3.066,145.2],[3.601,149.7],[3.822,118.1],[3.848,84.2],[3.845,79.8],[4.007,85.4],[4.082,53.6],[4.129,51.5],[4.2,53.9],[3.502,4.8],[3.631,0],[3.839,0.9],[3.848,-3.6],[4.013,-0.6],[4.133,2.1],[4.194,-0.6],[4.16,0.5],[4.213,-18.7],[3.062,-1.5],[3.066,-5.1],[4.129,-53.6],[4.204,-55.1],[4.005,-87.2],[4.178,-89],[3.82,-121.7],[4.157,-119.6],[4.12,-145.5],[3.601,-146.4]];
const p9Orange = [[3.025,146.7],[3.077,151.2],[3.109,147.3],[3.066,142.3],[3.573,144.3],[3.646,146.7],[3.465,117.6],[3.508,121.4],[3.549,115.5],[3.788,115.8],[3.861,116.1],[3.807,87.8],[3.826,90.2],[3.889,89.6],[3.97,89.6],[4.041,87.8],[4.035,52.7],[4.073,54.5],[4.166,53.6],[4.11,17.3],[4.166,17.3],[4.222,17.3],[3.031,1.5],[3.081,3.3],[3.467,-2.7],[3.609,3.9],[3.667,4.8],[3.811,0.9],[3.867,-3.6],[3.979,0.3],[4.03,1.5],[4.101,-0.6],[4.15,0],[4.17,0.5],[4.19,-0.5],[4.21,0],[4.241,-0.6],[4.138,-18.7],[4.185,-18.7],[4.251,-18.7],[4.11,-55.7],[4.166,-54.2],[4.232,-55.1],[3.97,-89],[4.041,-87.8],[4.138,-89],[4.213,-89],[3.783,-118.1],[3.854,-121.1],[4.11,-121.1],[4.185,-120.2],[3.556,-150.9],[3.631,-147.9],[4.078,-149.4],[4.163,-147.9]];
const p9Green = [[2.737,146.7],[2.945,146.7],[2.991,145.2],[3.236,149.7],[3.309,147.3],[3.414,147.3],[3.511,145.2],[3.149,117.9],[3.347,120.3],[3.399,122.7],[3.736,121.1],[3.699,113.9],[3.873,121.4],[4.208,116.1],[4.035,141.7],[3.474,86.6],[3.627,87.8],[3.639,85.7],[3.751,85.7],[4.011,88.1],[4.092,87.8],[4.121,87.2],[4.232,87.2],[4.353,85.7],[3.687,53],[3.743,53.6],[3.822,52.7],[3.994,53.9],[4.222,52.7],[4.26,51.5],[4.381,52.7],[4.456,53.3],[4.484,53.3],[3.796,17.3],[3.921,17.3],[4.114,17.9],[4.329,17.9],[4.346,17.3],[4.512,16.7],[4.608,18.5],[2.737,2.7],[3.147,-0.6],[3.227,-0.9],[3.336,2.7],[3.468,2.1],[3.525,-3.3],[3.684,-0.6],[3.721,-0.9],[3.747,-0.6],[3.83,3.9],[3.919,1.5],[3.932,-0.6],[4.073,-0.6],[4.232,3.9],[4.335,0.3],[4.372,0.3],[4.469,0.9],[4.503,-0.6],[4.559,0.9],[4.587,-0.6],[4.627,-0.6],[3.807,-18.7],[3.923,-18.5],[4.125,-19],[4.344,-18.7],[4.357,-18.5],[4.514,-18.7],[4.615,-19],[3.796,-54.1],[3.848,-55.1],[4.082,-54.8],[4.344,-54.8],[4.353,-54.5],[4.503,-54.8],[4.537,-53.3],[3.695,-89],[3.773,-88.4],[4.344,-89],[4.381,-89.3],[4.471,-89],[4.471,-92.9],[3.47,-119.6],[3.736,-121.7],[3.886,-118.1],[4.161,-121.7],[4.335,-120.2],[4.353,-119],[4.413,-120.5],[3.691,-151.4],[3.704,-147.9],[3.755,-146.1],[3.899,-145.8],[4.335,-148.8],[4.353,-150.9],[4.353,-147.3],[3.19,-150.3]];

// ---------------- LAYOUT / RENDER ----------------
const NS = "http://www.w3.org/2000/svg";
const svg = document.getElementById("fig");
function mk(tag, attrs, parent) {
  const e = document.createElementNS(NS, tag);
  for (const k in attrs) e.setAttribute(k, attrs[k]);
  if (parent) parent.appendChild(e);
  return e;
}
const LW = 2.44, FS = 30.6, TFS = 36.7;

const panels = [
 {id:"s-9600", title:"a=9600.0km", ylab:"Error_S/m", L:258, R:1133, T:70, B:790, x0:0.5951, x1:1.070, y0:0.2827, y1:0.8979, xt:ticks9600X, xtl:ticks9600XLabels, yt:ticksP1Y, ytl:ticksP1YLabels, data:[p1Blue,p1Orange,p1Green], leg:"ur"},
 {id:"t-9600", title:"a=9600.0km", ylab:"Error_T/m", L:1385, R:2264, T:70, B:790, x0:0.5952, x1:1.070, y0:1.372, y1:2.0167, xt:ticks9600X, xtl:ticks9600XLabels, yt:ticksP2Y, ytl:ticksP2YLabels, data:[p2Blue,p2Orange,p2Green], leg:"ur"},
 {id:"w-9600", title:"a=9600.0km", ylab:"Error_W/m", L:2515, R:3391, T:70, B:790, x0:0.5951, x1:1.070, y0:-538, y1:671, xt:ticks9600X, xtl:ticks9600XLabels, yt:ticksP3Y, ytl:ticksP3YLabels, data:[p3Blue,p3Orange,p3Green], leg:"ur"},
 {id:"s-24382", title:"a=24382.0km", ylab:"Error_S/m", L:258, R:1133, T:967, B:1689, x0:1.5336, x1:2.7287, y0:61.7, y1:276.9, xt:ticks24382X, xtl:ticks24382XLabels, yt:ticksP4Y, ytl:ticksP4YLabels, data:[p4Blue,p4Orange,p4Green], leg:"ul"},
 {id:"t-24382", title:"a=24382.0km", ylab:"Error_T/m", L:1385, R:2264, T:967, B:1689, x0:1.5347, x1:2.7357, y0:-98.4, y1:231.2, xt:ticks24382X, xtl:ticks24382XLabels, yt:ticksP5Y, ytl:ticksP5YLabels, data:[p5Blue,p5Orange,p5Green], leg:"cl"},
 {id:"w-24382", title:"a=24382.0km", ylab:"Error_W/m", L:2515, R:3391, T:967, B:1689, x0:1.5385, x1:2.7354, y0:-164.6, y1:164.2, xt:ticks24382X, xtl:ticks24382XLabels, yt:ticksWY, ytl:ticksWYLabels, data:[p6Blue,p6Orange,p6Green], leg:"ur"},
 {id:"s-42164", title:"a=42164.0km", ylab:"Error_S/m", L:258, R:1133, T:1866, B:2588, x0:2.6444, x1:4.7072, y0:-33.3, y1:297.8, xt:ticks42164X, xtl:ticks42164XLabels, yt:ticksP7Y, ytl:ticksP7YLabels, data:[p7Blue,p7Orange,p7Green], leg:"ul"},
 {id:"t-42164", title:"a=42164.0km", ylab:"Error_T/m", L:1385, R:2264, T:1866, B:2588, x0:2.6442, x1:4.7164, y0:-30.1, y1:250.7, xt:ticks42164X, xtl:ticks42164XLabels, yt:ticksP7Y, ytl:ticksP7YLabels, data:[p8Blue,p8Orange,p8Green], leg:"ll"},
 {id:"w-42164", title:"a=42164.0km", ylab:"Error_W/m", L:2515, R:3391, T:1866, B:2588, x0:2.6492, x1:4.7265, y0:-167.6, y1:165.6, xt:ticks42164X, xtl:ticks42164XLabels, yt:ticksWY, ytl:ticksWYLabels, data:[p9Blue,p9Orange,p9Green], leg:"ll"}
];

panels.forEach((p, pi) => {
  const g = mk("g", {}, svg);
  
  
  const sx = v => p.L + (v - p.x0) / (p.x1 - p.x0) * (p.R - p.L);
  const sy = v => p.B - (v - p.y0) / (p.y1 - p.y0) * (p.B - p.T);

  // grid
  const grid = mk("g", {stroke:"#b0b0b0", "stroke-width":LW}, g);
  
  
  p.xt.forEach(v => { const X = sx(v); if (X >= p.L && X <= p.R) mk("line", {x1:X, x2:X, y1:p.T, y2:p.B}, grid); });
  p.yt.forEach(v => { const Y = sy(v); if (Y >= p.T && Y <= p.B) mk("line", {x1:p.L, x2:p.R, y1:Y, y2:Y}, grid); });

  // clip
  const cp = mk("clipPath", {id:"clip" + pi}, g);
  mk("rect", {x:p.L, y:p.T, width:p.R - p.L, height:p.B - p.T}, cp);

  // series
  p.data.forEach((arr, si) => {
    const sg = mk("g", {"clip-path":"url(#clip" + pi + ")", fill:seriesColors[si], stroke:seriesColors[si], "fill-opacity":0.7, "stroke-opacity":0.7, "stroke-width":3}, g);
    
    
    arr.forEach(pt => {
      const c = mk("circle", {cx:sx(pt[0]).toFixed(1), cy:sy(pt[1]).toFixed(1), r:4.9}, sg);
      
      
    });
  });

  // spines
  const sp = mk("rect", {x:p.L, y:p.T, width:p.R - p.L, height:p.B - p.T, fill:"none", stroke:"#000", "stroke-width":LW}, g);
  
  

  // x ticks
  const xa = mk("g", {}, g);
  
  
  p.xt.forEach((v, i) => {
    const X = sx(v); if (X < p.L - 1 || X > p.R + 1) return;
    mk("line", {x1:X, x2:X, y1:p.B, y2:p.B + 10.7, stroke:"#000", "stroke-width":LW}, xa);
    const t = mk("text", {x:X, y:p.B + 44, "font-size":FS, "text-anchor":"middle", fill:"#000"}, xa);
    t.textContent = p.xtl[i];
    
    
  });
  const xl = mk("text", {x:(p.L + p.R) / 2, y:p.B + 91, "font-size":FS, "text-anchor":"middle", fill:"#000"}, xa);
  xl.textContent = "distance to center/m";
  
  
  const off = mk("text", {x:p.R, y:p.B + 88, "font-size":FS, "text-anchor":"end", fill:"#000"}, xa);
  off.textContent = "1e7";
  
  

  // y ticks
  const ya = mk("g", {}, g);
  
  
  let maxW = 0;
  p.yt.forEach((v, i) => {
    const Y = sy(v); if (Y < p.T - 1 || Y > p.B + 1) return;
    mk("line", {x1:p.L - 10.7, x2:p.L, y1:Y, y2:Y, stroke:"#000", "stroke-width":LW}, ya);
    const t = mk("text", {x:p.L - 21.4, y:Y + 11, "font-size":FS, "text-anchor":"end", fill:"#000"}, ya);
    t.textContent = p.ytl[i];
    
    
    let w = 0; try { w = t.getComputedTextLength(); } catch(e) { w = p.ytl[i].length * 19; }
    if (!w) w = p.ytl[i].length * 19;
    if (w > maxW) maxW = w;
  });
  const yx = p.L - 21.4 - maxW - 12 - 12;
  const ym = (p.T + p.B) / 2;
  const ylab = mk("text", {x:yx, y:ym, "font-size":FS, "text-anchor":"middle", fill:"#000", transform:"rotate(-90 " + yx + " " + ym + ")"}, ya);
  ylab.textContent = p.ylab;
  
  

  // title
  const tt = mk("text", {x:(p.L + p.R) / 2, y:p.T - 19, "font-size":TFS, "text-anchor":"middle", fill:"#000"}, g);
  tt.textContent = p.title;
  
  

  // legend
  const LWd = 249, LHt = 152, pad = 15.3;
  let lx, ly;
  if (p.leg === "ur") { lx = p.R - pad - LWd; ly = p.T + pad; }
  else if (p.leg === "ul") { lx = p.L + pad; ly = p.T + pad; }
  else if (p.leg === "cl") { lx = p.L + pad; ly = (p.T + p.B) / 2 - LHt / 2; }
  else { lx = p.L + pad; ly = p.B - pad - LHt; }
  const lg = mk("g", {}, g);
  
  
  mk("rect", {x:lx, y:ly, width:LWd, height:LHt, rx:6, ry:6, fill:"#ffffff", "fill-opacity":0.8, stroke:"#cccccc", "stroke-opacity":0.8, "stroke-width":LW}, lg);
  seriesLabels.forEach((lab, si) => {
    const cy = ly + 28.7 + si * 48;
    const m = mk("circle", {cx:lx + 44, cy:cy, r:4.9, fill:seriesColors[si], stroke:seriesColors[si], "fill-opacity":0.7, "stroke-opacity":0.7, "stroke-width":3}, lg);
    
    
    const t = mk("text", {x:lx + 101, y:cy + 11, "font-size":FS, fill:"#000"}, lg);
    t.textContent = lab;
    
    
  });
});
</script>
</body></html>
